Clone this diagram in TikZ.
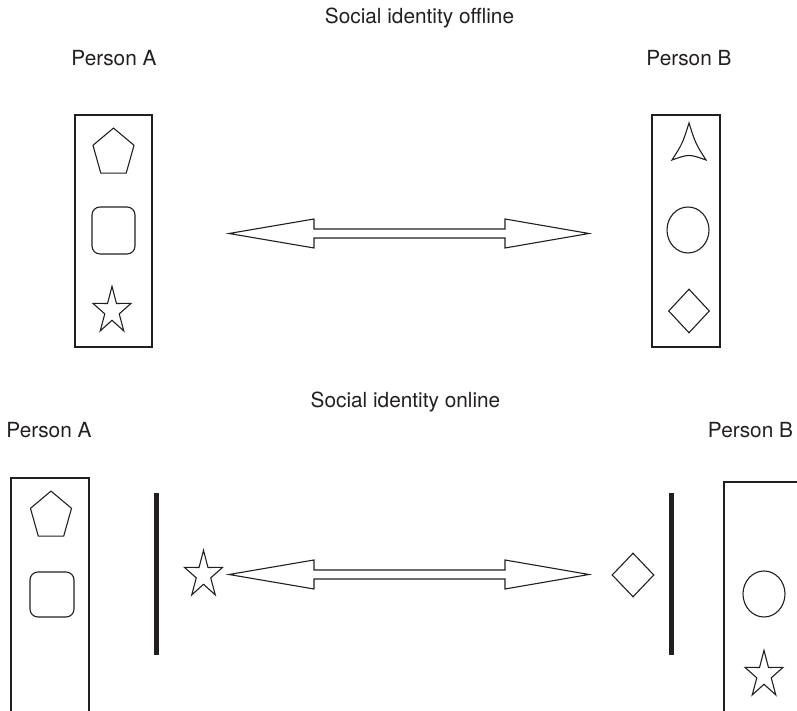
\documentclass[tikz,border=0pt]{standalone}
\usepackage{fontspec}
\setmainfont{TeX Gyre Heros}
\usepackage{tikz}
\usetikzlibrary{shapes.geometric}
\definecolor{inkgray}{RGB}{35,31,32}

% outline shapes drawn round a named coordinate
\newcommand{\drawpentagon}[1]{%
  \draw[shape line,shift={(#1)}] (90:21.6 and 24.9) -- (162:21.6 and 24.9)
    -- (234:21.6 and 24.9) -- (306:21.6 and 24.9) -- (18:21.6 and 24.9) -- cycle;}
\newcommand{\drawstar}[1]{%
  \draw[shape line,shift={(#1)}] (90:20 and 24.6)
    \foreach \k in {0,...,4} {-- ({126+72*\k}:7.6 and 9.3) -- ({162+72*\k}:20 and 24.6)} -- cycle;}
\newcommand{\drawtriangle}[1]{%
  \draw[shape line,shift={(#1)}] (0,23) .. controls (-6.5,2.5) .. (-17,-14)
    .. controls (0,-8) .. (17,-14) .. controls (6.5,2.5) .. (0,23) -- cycle;}
\newcommand{\twowayarrow}[1]{%
  \draw[shape line,shift={(#1)}] (-180,0) -- (-95,14.5) -- (-95,4.5) -- (96,4.5)
    -- (96,14.5) -- (180,0) -- (96,-14.5) -- (96,-4.5) -- (-95,-4.5) -- (-95,-14.5) -- cycle;}

\begin{document}
\begin{tikzpicture}[x=1pt,y=1pt,inkgray,
  shape line/.style={line width=1.1pt,line join=miter},
  label text/.style={font=\fontsize{20.8}{25}\selectfont,anchor=base,inner sep=0pt},
  person box/.style={draw,line width=1.1pt,minimum width=77,minimum height=232,inner sep=0pt},
  roundsq/.style={draw,line width=1.1pt,rounded corners=8pt,minimum width=43,minimum height=47,inner sep=0pt},
  disc/.style={draw,line width=1.1pt,ellipse,minimum width=42,minimum height=46,inner sep=0pt},
  rhombus/.style={draw,line width=1.1pt,diamond,minimum width=41,minimum height=44,inner sep=0pt},
  wall/.style={line width=5pt}]
\useasboundingbox (0,0) rectangle (797,711);

% Social identity offline
\node[label text] (titleOff) at (419.5,687) {Social identity offline};
\node[label text] (offA) at (114,645) {Person A};
\node[label text] (offB) at (689,645) {Person B};

\node[person box] (boxA) at (113.5,480) {};
\node[person box,minimum width=68] (boxB) at (686,480) {};

\coordinate (penA) at (113.5,558);
\drawpentagon{penA}
\node[roundsq] (sqA) at (113.5,480.5) {};
\coordinate (starA) at (112,400);
\drawstar{starA}

\coordinate (triB) at (689,565);
\drawtriangle{triB}
\node[disc] (discB) at (688,481) {};
\node[rhombus] (rhoB) at (689,400) {};

\coordinate (linkOff) at (409,477.5);
\twowayarrow{linkOff}

% Social identity online
\node[label text] (titleOn) at (405.5,303) {Social identity online};
\node[label text] (onA) at (49,273) {Person A};
\node[label text] (onB) at (750.5,273) {Person B};

\draw[line width=1.1pt] (11,0) -- (11,233) -- (89,233) -- (89,0);
\draw[line width=1.1pt] (724,0) -- (724,229) -- (797,229);

\coordinate (penC) at (51,195);
\drawpentagon{penC}
\node[roundsq,minimum width=44,minimum height=45] (sqC) at (52,116.5) {};

\draw[wall] (156,218) -- (156,56);
\draw[wall] (671,218) -- (671,56);

\coordinate (starC) at (203.5,136);
\drawstar{starC}
\node[rhombus,minimum width=42] (rhoD) at (633,136) {};

\coordinate (linkOn) at (409,136.5);
\twowayarrow{linkOn}

\node[disc] (discD) at (764,117) {};
\coordinate (starD) at (764,36);
\drawstar{starD}
\end{tikzpicture}
\end{document}
